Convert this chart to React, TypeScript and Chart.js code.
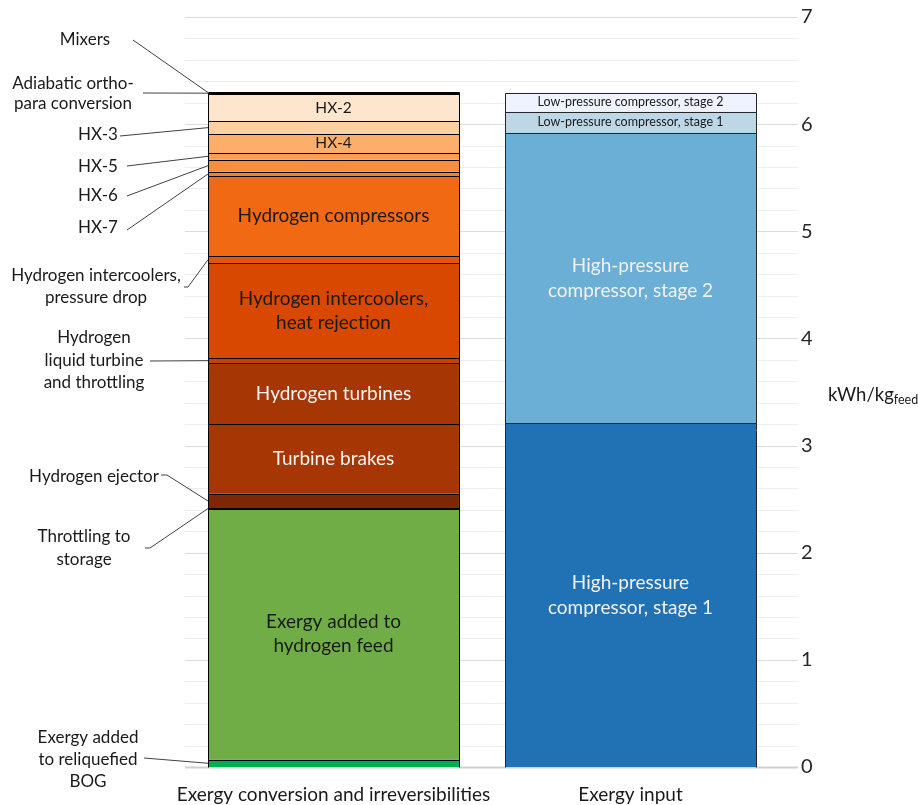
import React, { useEffect, useRef } from "react";
import { Chart, registerables } from "chart.js";

Chart.register(...registerables);

const FONT = "Lato, 'Open Sans', sans-serif";

// Two stacked columns: where the exergy goes vs. where it comes from
const categories = ["Exergy conversion and irreversibilities", "Exergy input"];

// Left column, bottom to top (kWh per kg of feed)
const conversionNames = [
  "Exergy added to reliquefied BOG",
  "Exergy added to hydrogen feed",
  "Throttling to storage",
  "Hydrogen ejector",
  "Turbine brakes",
  "Hydrogen turbines",
  "Hydrogen liquid turbine and throttling",
  "Hydrogen intercoolers, heat rejection",
  "Hydrogen intercoolers, pressure drop",
  "Hydrogen compressors",
  "HX-7",
  "HX-6",
  "HX-5",
  "HX-4",
  "HX-3",
  "HX-2",
  "Adiabatic ortho-para conversion",
  "Mixers",
];
const conversionValues = [
  0.07, 2.34, 0.005, 0.135, 0.65, 0.57, 0.045, 0.885, 0.07, 0.745, 0.04, 0.115,
  0.06, 0.18, 0.115, 0.26, 0.008, 0.004,
];

// Right column, bottom to top
const inputNames = [
  "High-pressure compressor, stage 1",
  "High-pressure compressor, stage 2",
  "Low-pressure compressor, stage 1",
  "Low-pressure compressor, stage 2",
];
const inputValues = [3.21, 2.71, 0.195, 0.18];

const yTicks = [0, 1, 2, 3, 4, 5, 6, 7];

const conversionColors = [
  "#00B050", "#70AD47", "#548235", "#7F2704", "#A63603", "#A63603", "#C44103",
  "#D94801", "#E6550D", "#F16913", "#F87F2C", "#FD8D3C", "#FD9E54", "#FDAE6B",
  "#FDD0A2", "#FEE6CE", "#FFF5EB", "#FFF5EB",
];
const inputColors = ["#2171B5", "#6BAED6", "#BDD7E7", "#EFF3FF"];

// Text written inside the larger segments
type Inner = { lines: string[]; color: string; size: number; lh: number };
const innerLabels: Record<string, Inner> = {
  "Exergy added to hydrogen feed": { lines: ["Exergy added to", "hydrogen feed"], color: "#1a1a1a", size: 19, lh: 24 },
  "Turbine brakes": { lines: ["Turbine brakes"], color: "#f2f2f2", size: 19, lh: 24 },
  "Hydrogen turbines": { lines: ["Hydrogen turbines"], color: "#f2f2f2", size: 19, lh: 24 },
  "Hydrogen intercoolers, heat rejection": { lines: ["Hydrogen intercoolers,", "heat rejection"], color: "#1a1a1a", size: 19, lh: 24 },
  "Hydrogen compressors": { lines: ["Hydrogen compressors"], color: "#1a1a1a", size: 19, lh: 24 },
  "HX-4": { lines: ["HX-4"], color: "#1a1a1a", size: 15.5, lh: 20 },
  "HX-2": { lines: ["HX-2"], color: "#1a1a1a", size: 15.5, lh: 20 },
  "High-pressure compressor, stage 1": { lines: ["High-pressure", "compressor, stage 1"], color: "#f2f2f2", size: 19, lh: 25 },
  "High-pressure compressor, stage 2": { lines: ["High-pressure", "compressor, stage 2"], color: "#f2f2f2", size: 19, lh: 25 },
  "Low-pressure compressor, stage 1": { lines: ["Low-pressure compressor, stage 1"], color: "#1a1a1a", size: 12.5, lh: 16 },
  "Low-pressure compressor, stage 2": { lines: ["Low-pressure compressor, stage 2"], color: "#1a1a1a", size: 12.5, lh: 16 },
};

// Callouts on the left of the first column: text block centre and leader path
type Callout = { name: string; lines: string[]; cx: number; ys: number[]; path: [number, number][] };
const callouts: Callout[] = [
  { name: "Mixers", lines: ["Mixers"], cx: 85, ys: [40], path: [[133, 40]] },
  { name: "Adiabatic ortho-para conversion", lines: ["Adiabatic ortho-", "para conversion"], cx: 73, ys: [84, 104], path: [[143, 93]] },
  { name: "HX-3", lines: ["HX-3"], cx: 98, ys: [135], path: [[120, 136]] },
  { name: "HX-5", lines: ["HX-5"], cx: 98, ys: [167], path: [[127, 166]] },
  { name: "HX-6", lines: ["HX-6"], cx: 98, ys: [196], path: [[127, 196]] },
  { name: "HX-7", lines: ["HX-7"], cx: 98, ys: [228], path: [[127, 230]] },
  { name: "Hydrogen intercoolers, pressure drop", lines: ["Hydrogen intercoolers,", "pressure drop"], cx: 96, ys: [276, 298], path: [[184, 287], [188, 287]] },
  { name: "Hydrogen liquid turbine and throttling", lines: ["Hydrogen", "liquid turbine", "and throttling"], cx: 94, ys: [338, 361, 383], path: [[150, 361]] },
  { name: "Hydrogen ejector", lines: ["Hydrogen ejector"], cx: 94, ys: [477], path: [[161, 475], [167, 475]] },
  { name: "Throttling to storage", lines: ["Throttling to", "storage"], cx: 84, ys: [537, 560], path: [[145, 548], [150, 548]] },
  { name: "Exergy added to reliquefied BOG", lines: ["Exergy added", "to reliquefied", "BOG"], cx: 88, ys: [738, 760, 782], path: [[144, 758]] },
];

const gridPlugin = {
  id: "minorGrid",
  beforeDatasetsDraw(chart: any) {
    const { ctx, chartArea, scales } = chart;
    const y = scales.y;
    ctx.save();
    for (let i = 0; i <= 35; i++) {
      const py = Math.round(y.getPixelForValue(i / 5)) + 0.5;
      ctx.strokeStyle = i === 0 ? "#d0d0d0" : i % 5 === 0 ? "#dcdcdc" : "#eeeeee";
      ctx.lineWidth = i === 0 ? 2 : 1;
      ctx.beginPath();
      ctx.moveTo(chartArea.left, py);
      ctx.lineTo(chartArea.right + 19, py);
      ctx.stroke();
    }
    ctx.restore();
  },
};

const crisp = (v: number) => Math.round(v) + 0.5;

const labelPlugin = {
  id: "segmentLabels",
  afterDatasetsDraw(chart: any) {
    const { ctx, chartArea } = chart;
    ctx.save();

    // segment outlines, one column at a time
    [0, 1].forEach((col) => {
      let top = Infinity;
      let bottom = -Infinity;
      let left = 0;
      let right = 0;
      ctx.strokeStyle = col === 0 ? "#000000" : "#262626";
      ctx.lineWidth = 1;
      chart.data.datasets.forEach((ds: any, di: number) => {
        if (ds.data[col] == null) return;
        const bar = chart.getDatasetMeta(di).data[col];
        if (!bar) return;
        left = bar.x - bar.width / 2;
        right = bar.x + bar.width / 2;
        top = Math.min(top, bar.y);
        bottom = Math.max(bottom, bar.base);
        ctx.beginPath();
        ctx.moveTo(crisp(left), crisp(bar.y));
        ctx.lineTo(crisp(right), crisp(bar.y));
        ctx.stroke();
      });
      ctx.beginPath();
      ctx.moveTo(crisp(left), crisp(bottom));
      ctx.lineTo(crisp(left), crisp(top));
      ctx.moveTo(crisp(right), crisp(bottom));
      ctx.lineTo(crisp(right), crisp(top));
      ctx.stroke();
    });

    chart.data.datasets.forEach((ds: any, di: number) => {
      const meta = chart.getDatasetMeta(di);
      const idx = ds.data[0] != null ? 0 : 1;
      const bar = meta.data[idx];
      if (!bar) return;
      const midY = (bar.y + bar.base) / 2;
      const inner = innerLabels[ds.label];
      if (inner) {
        ctx.font = `${inner.size}px ${FONT}`;
        ctx.fillStyle = inner.color;
        ctx.textAlign = "center";
        ctx.textBaseline = "middle";
        inner.lines.forEach((t, k) => {
          ctx.fillText(t, bar.x, midY + (k - (inner.lines.length - 1) / 2) * inner.lh);
        });
      }
      const co = callouts.find((c) => c.name === ds.label);
      if (co) {
        ctx.font = `17px ${FONT}`;
        ctx.fillStyle = "#1a1a1a";
        ctx.textAlign = "center";
        ctx.textBaseline = "middle";
        co.lines.forEach((t, k) => ctx.fillText(t, co.cx, co.ys[k]));
        ctx.strokeStyle = "#404040";
        ctx.lineWidth = 1;
        ctx.beginPath();
        co.path.forEach(([px, py], k) => (k === 0 ? ctx.moveTo(px, py) : ctx.lineTo(px, py)));
        ctx.lineTo(bar.x - bar.width / 2, midY);
        ctx.stroke();
      }
    });

    // unit label to the right of the value axis
    const ty = (chartArea.top + chartArea.bottom) / 2 + 3;
    const tx = chartArea.right + 49;
    ctx.fillStyle = "#1a1a1a";
    ctx.textAlign = "left";
    ctx.textBaseline = "middle";
    ctx.font = `18.5px ${FONT}`;
    ctx.fillText("kWh/kg", tx, ty);
    const w = ctx.measureText("kWh/kg").width;
    ctx.font = `12.5px ${FONT}`;
    ctx.fillText("feed", tx + w, ty + 5);
    ctx.restore();
  },
};

export default function App() {
  const ref = useRef<HTMLCanvasElement | null>(null);

  useEffect(() => {
    if (!ref.current) return;
    Chart.defaults.font.family = FONT;
    const datasets = [
      ...conversionNames.map((n, i) => ({
        label: n,
        data: [conversionValues[i], null],
        backgroundColor: conversionColors[i],
        borderWidth: 0,
        stack: "total",
      })),
      ...inputNames.map((n, i) => ({
        label: n,
        data: [null, inputValues[i]],
        backgroundColor: inputColors[i],
        borderWidth: 0,
        stack: "total",
      })),
    ];
    const chart = new Chart(ref.current, {
      type: "bar",
      data: { labels: categories, datasets: datasets as any },
      options: {
        animation: false,
        responsive: true,
        maintainAspectRatio: false,
        layout: { padding: { left: 185, top: 17, right: 0, bottom: 0 } },
        datasets: { bar: { categoryPercentage: 1, barPercentage: 0.845 } },
        plugins: { legend: { display: false }, tooltip: { enabled: false } },
        scales: {
          x: {
            stacked: true,
            grid: { display: false, drawTicks: false },
            border: { display: false },
            ticks: {
              autoSkip: false,
              maxRotation: 0,
              minRotation: 0,
              padding: 16,
              color: "#1a1a1a",
              font: { size: 19, family: FONT },
            },
            afterFit: (s: any) => {
              s.height = 38;
              s.paddingLeft = 0;
              s.paddingRight = 0;
            },
          },
          y: {
            stacked: true,
            position: "right",
            min: 0,
            max: 7,
            afterBuildTicks: (s: any) => {
              s.ticks = yTicks.map((v) => ({ value: v }));
            },
            grid: { display: false, drawTicks: false },
            border: { display: false },
            ticks: {
              padding: 22,
              color: "#262626",
              font: { size: 20, family: FONT },
            },
            afterFit: (s: any) => {
              s.width = 139;
              s.paddingTop = 0;
              s.paddingBottom = 0;
            },
          },
        },
      },
      plugins: [gridPlugin, labelPlugin],
    });
    return () => chart.destroy();
  }, []);

  return (
    <div style={{ position: "absolute", left: 0, top: 0, width: 918, height: 805, background: "#ffffff" }}>
      <canvas ref={ref} />
    </div>
  );
}
